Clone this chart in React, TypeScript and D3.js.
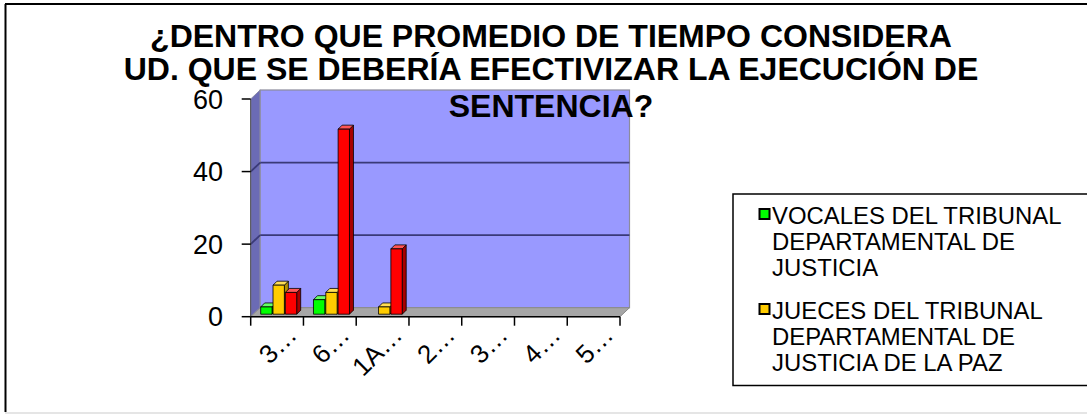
import React from "react";
import * as d3 from "d3";

// Chart content
const titleLines = [
  "¿DENTRO QUE PROMEDIO DE TIEMPO CONSIDERA",
  "UD. QUE SE DEBERÍA EFECTIVIZAR LA EJECUCIÓN DE",
  "SENTENCIA?",
];
const categories = ["3…", "6…", "1A…", "2…", "3…", "4…", "5…"];
const vocales = [2, 4, 0, 0, 0, 0, 0];
const jueces = [8, 6, 2, 0, 0, 0, 0];
const terceraSerie = [6, 51, 18, 0, 0, 0, 0];
const yTicks = [0, 20, 40, 60];
const legendVocales = ["VOCALES DEL TRIBUNAL", "DEPARTAMENTAL DE", "JUSTICIA"];
const legendJueces = ["JUECES DEL TRIBUNAL", "DEPARTAMENTAL DE", "JUSTICIA DE LA PAZ"];

const series = [
  { key: "vocales", values: vocales, front: "#00ff00", top: "#66ff66", side: "#00a800", legend: legendVocales },
  { key: "jueces", values: jueces, front: "#ffcc00", top: "#ffdd55", side: "#b38f00", legend: legendJueces },
  { key: "tercera", values: terceraSerie, front: "#ff0000", top: "#ff5555", side: "#a80000", legend: null as string[] | null },
];

const W = 1087;
const H = 414;
const FONT = "'Liberation Sans', Arial, Helvetica, sans-serif";

// front plane of the 3D plot
const X0 = 250.7;
const X1 = 620;
const Y0 = 316.7;
const YT = 99;
// wall depth offset
const DX = 9.5;
const DY = -9;
// bar depth and placement inside the box
const BDX = 4;
const BDY = -4;
const BOY = -2.5;

export default function App() {
  const x = d3.scaleBand<number>().domain(d3.range(categories.length)).range([X0, X1]).padding(0);
  const y = d3.scaleLinear().domain([0, 60]).range([Y0, YT]);
  const inner = d3
    .scaleBand<string>()
    .domain(series.map((s) => s.key))
    .range([10, 46])
    .paddingInner(0.08);

  const bw = inner.bandwidth();
  const boundaries = d3.range(categories.length + 1).map((i) => X0 + i * x.step());

  const bars: React.ReactNode[] = [];
  categories.forEach((_, ci) => {
    series.forEach((s) => {
      const v = s.values[ci];
      if (!v) return;
      const bx = (x(ci) as number) + (inner(s.key) as number);
      const by0 = y(0) + BOY;
      const by1 = y(v) + BOY;
      const front = `M${bx},${by0}L${bx},${by1}L${bx + bw},${by1}L${bx + bw},${by0}Z`;
      const top = `M${bx},${by1}L${bx + BDX},${by1 + BDY}L${bx + bw + BDX},${by1 + BDY}L${bx + bw},${by1}Z`;
      const side = `M${bx + bw},${by0}L${bx + bw},${by1}L${bx + bw + BDX},${by1 + BDY}L${bx + bw + BDX},${by0 + BDY}Z`;
      bars.push(
        <g key={`${s.key}-${ci}`} stroke="#000" strokeWidth={0.8} strokeLinejoin="round">
          <path d={side} fill={s.side} />
          <path d={top} fill={s.top} />
          <path d={front} fill={s.front} />
        </g>
      );
    });
  });

  const legendEntries = series.filter((s) => s.legend);
  const legendBaselines = [224, 319];

  return (
    <div style={{ position: "absolute", left: 0, top: 0, width: W, height: H, background: "#fff" }}>
      <svg width={W} height={H} viewBox={`0 0 ${W} ${H}`} style={{ display: "block" }} fontFamily={FONT}>
        <rect x={0} y={0} width={W} height={H} fill="#fff" />
        {/* outer frame */}
        <line x1={5} y1={4} x2={W} y2={4} stroke="#000" strokeWidth={2} />
        <line x1={5.5} y1={4} x2={5.5} y2={412} stroke="#000" strokeWidth={2} />
        <line x1={5} y1={413} x2={W} y2={413} stroke="#dcdcdc" strokeWidth={1.5} />

        {/* side wall */}
        <path
          d={`M${X0},${Y0}L${X0},${YT}L${X0 + DX},${YT + DY}L${X0 + DX},${Y0 + DY}Z`}
          fill="#6b6bb5"
          stroke="#8a8aa8"
          strokeWidth={1}
        />
        {/* back wall */}
        <rect
          x={X0 + DX}
          y={YT + DY}
          width={X1 - X0}
          height={Y0 - YT}
          fill="#9999ff"
          stroke="#8c8c9c"
          strokeWidth={1.2}
        />
        {/* gridlines */}
        {yTicks
          .filter((t) => t > 0 && t < 60)
          .map((t) => (
            <g key={`g${t}`} stroke="#3a3a78" strokeWidth={1.8}>
              <line x1={X0 + DX} x2={X1 + DX} y1={y(t) + DY} y2={y(t) + DY} />
              <line x1={X0} x2={X0 + DX} y1={y(t)} y2={y(t) + DY} />
            </g>
          ))}
        {/* floor */}
        <path
          d={`M${X0},${Y0}L${X1},${Y0}L${X1 + DX},${Y0 + DY}L${X0 + DX},${Y0 + DY}Z`}
          fill="#a6a6a6"
          stroke="#8a8a8a"
          strokeWidth={1}
        />

        {bars}

        {/* value axis */}
        <line x1={X0} x2={X0} y1={YT} y2={Y0} stroke="#505050" strokeWidth={1} />
        {yTicks.map((t) => (
          <g key={`yt${t}`}>
            <line x1={X0 - 9} x2={X0} y1={y(t)} y2={y(t)} stroke="#000" strokeWidth={1.5} />
            <text x={223} y={y(t) + 9.6} fontSize={27} textAnchor="end" fill="#000">
              {t}
            </text>
          </g>
        ))}

        {/* category axis */}
        <line x1={X0} x2={X1} y1={Y0} y2={Y0} stroke="#000" strokeWidth={1.5} />
        {boundaries.map((bx, i) => (
          <line key={`xt${i}`} x1={bx} x2={bx} y1={Y0} y2={Y0 + 9} stroke="#000" strokeWidth={1.5} />
        ))}
        {categories.map((c, i) => {
          const ax = (x(i) as number) + x.bandwidth() - 5;
          const ay = Y0 + 20;
          return (
            <text
              key={`xl${i}`}
              x={ax}
              y={ay}
              fontSize={26}
              textAnchor="end"
              transform={`rotate(-45 ${ax} ${ay})`}
              fill="#000"
            >
              {c}
            </text>
          );
        })}

        {/* title */}
        {titleLines.map((line, i) => (
          <text
            key={`t${i}`}
            x={551}
            y={[47, 80, 117][i]}
            fontSize={32}
            fontWeight="bold"
            textAnchor="middle"
            fill="#000"
          >
            {line}
          </text>
        ))}

        {/* legend */}
        <rect x={733} y={194} width={W - 733 + 20} height={191.5} fill="#fff" stroke="#000" strokeWidth={1.5} />
        {legendEntries.map((s, i) => {
          const b = legendBaselines[i];
          return (
            <g key={`lg${s.key}`}>
              <rect x={759.5} y={b - 15} width={10} height={10} fill={s.front} stroke="#000" strokeWidth={2} />
              {(s.legend as string[]).map((ln, j) => (
                <text key={j} x={772} y={b + j * 26} fontSize={23.9} fill="#000">
                  {ln}
                </text>
              ))}
            </g>
          );
        })}
      </svg>
    </div>
  );
}
